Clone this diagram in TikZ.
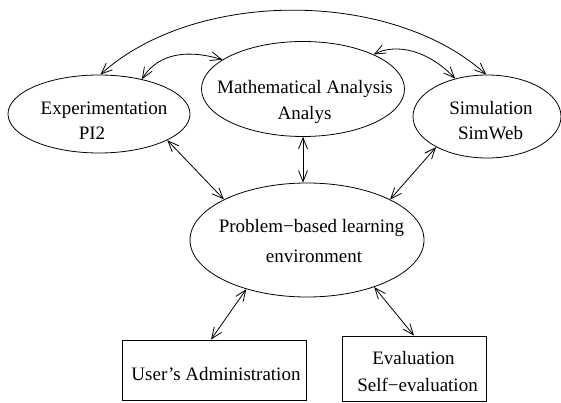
\documentclass[tikz,border=0pt]{standalone}
\usepackage{fontspec}
\setmainfont{Liberation Serif}
\usetikzlibrary{arrows.meta,shapes.geometric,calc}

\begin{document}
\begin{tikzpicture}[x=1pt,y=-1pt,
  every node/.style={font=\fontsize{19}{25}\selectfont},
  bubble/.style={draw, ellipse, line width=0.8pt, inner sep=0pt},
  panel/.style={draw, rectangle, line width=0.8pt, inner sep=0pt},
  caption/.style={anchor=base, inner sep=0pt},
  barb/.tip={Straight Barb[length=11pt,width=9pt,line width=0.8pt]},
  link/.style={line width=0.8pt, barb-barb},
]
\useasboundingbox (0,0) rectangle (561,403);

% environments
\node[bubble, minimum width=182pt, minimum height=78pt] (exp)  at (99,114)   {};
\node[bubble, minimum width=203pt, minimum height=95pt] (math) at (303,89)   {};
\node[bubble, minimum width=148pt, minimum height=83pt] (sim)  at (487,116.5) {};
\node[bubble, minimum width=234pt, minimum height=114pt] (pbl) at (307,240)  {};

\node[caption] (exp1)  at (104,115)   {Experimentation};
\node[caption] (exp2)  at (92,140)    {PI2};
\node[caption] (math1) at (305,93.7)  {Mathematical Analysis};
\node[caption] (math2) at (304.5,120) {Analys};
\node[caption] (sim1)  at (491,115)   {Simulation};
\node[caption] (sim2)  at (490.5,140) {SimWeb};
\node[caption] (pbl1)  at (311.5,232) {Problem−based learning};
\node[caption] (pbl2)  at (314,262)   {environment};

% support modules
\node[panel, minimum width=184pt, minimum height=60pt] (user) at (214,370) {};
\node[panel, minimum width=144pt, minimum height=65pt] (eval) at (414,368.5) {};
\node[caption] (user1) at (216,380)   {User’s Administration};
\node[caption] (eval1) at (413.5,364) {Evaluation};
\node[caption] (eval2) at (417.5,391) {Self−evaluation};

% links between the environments
\draw[link] (exp.88) .. controls (195,-11) and (391,-11) .. (sim.91);
\draw[link] (exp.39) .. controls (155,58) and (180,47) .. (math.160);
\draw[link] (math.26) .. controls (396,43) and (428,50) .. (sim.130);

% links to the learning environment
\draw[link] (exp.-21) -- (pbl.154);
\draw[link] (math.south) -- (math.south |- pbl.north);
\draw[link] (sim.-149) -- (pbl.26);
\draw[link] (pbl.-141) -- ([xshift=-3pt]user.north);
\draw[link] (pbl.-35) -- (eval.north);
\end{tikzpicture}
\end{document}
